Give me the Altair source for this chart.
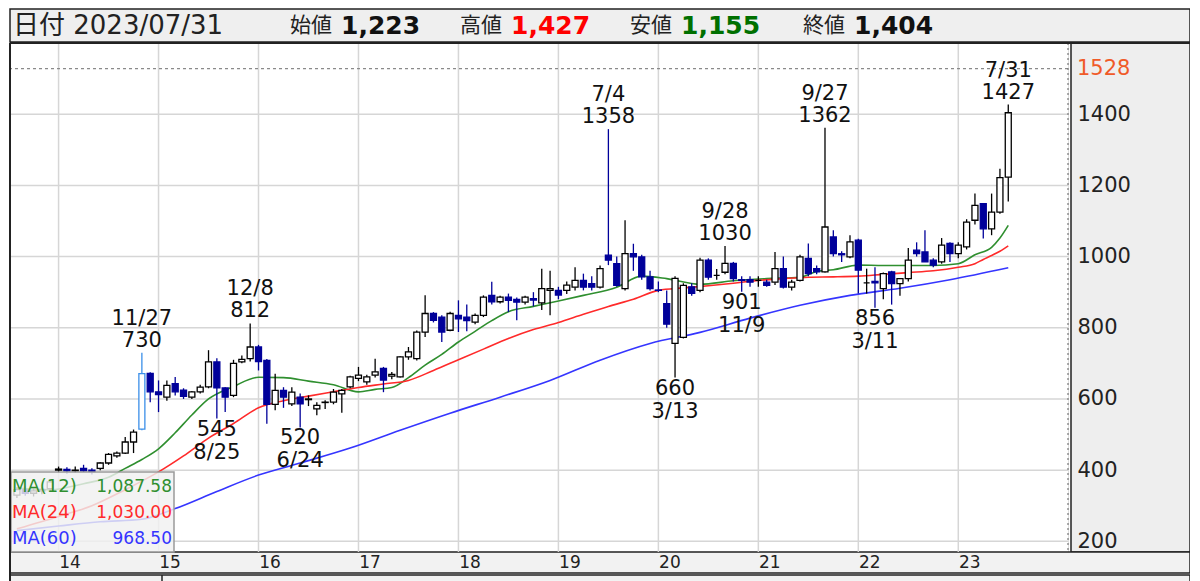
import altair as alt
import pandas as pd

FONT = "DejaVu Sans, Noto Sans CJK JP"

# ---------------- data ----------------
# month index: 0 = Jan 2014 (first candle Aug 2013, last Jul 2023)
months = list(range(-5, 115))
opens = [330, 345, 335, 342, 348,
         400, 402, 398, 405, 400, 405, 420, 440, 448, 479, 515, 672,
         620, 605, 643, 625, 605, 620, 634, 704, 631, 610, 704, 713,
         746, 708, 585, 624, 586, 605, 598, 572, 590, 591, 614, 634,
         658, 648, 667, 686, 664, 662, 718, 713, 788, 840, 830, 793,
         835, 830, 816, 835, 891, 873, 886, 880, 872, 882, 870, 905,
         905, 905, 914, 933, 924, 914, 1004, 980, 910, 1008, 999, 943,
         906, 868, 756, 773, 915, 905, 990, 947, 956, 981, 935, 935,
         933, 928, 928, 966, 914, 933, 995, 966, 957, 1055, 1008, 999,
         1046, 926, 930, 910, 957, 924, 938, 1018, 1013, 990, 985, 1037,
         1008, 1027, 1102, 1149, 1078, 1125, 1223]
highs = [352, 355, 348, 352, 375,
         410, 408, 410, 415, 405, 422, 448, 452, 493, 514, 730, 675,
         652, 652, 662, 630, 622, 640, 737, 714, 633, 710, 722, 812,
         752, 712, 671, 633, 633, 615, 610, 591, 596, 628, 628, 665,
         690, 668, 713, 690, 676, 720, 746, 792, 891, 844, 835, 845,
         877, 865, 840, 891, 929, 890, 896, 885, 890, 900, 966, 960,
         915, 930, 970, 952, 945, 975, 1358, 1000, 1102, 1036, 1005, 960,
         930, 905, 945, 925, 925, 997, 995, 965, 1030, 985, 945, 945,
         945, 935, 1013, 1000, 935, 1005, 1037, 975, 1362, 1074, 1015, 1060,
         1050, 966, 970, 955, 960, 940, 1024, 1040, 1074, 995, 1052, 1040,
         1040, 1105, 1177, 1150, 1177, 1247, 1427]
lows = [322, 328, 326, 332, 340,
        392, 390, 392, 395, 388, 400, 415, 435, 445, 448, 512, 591,
        563, 595, 610, 600, 600, 615, 630, 545, 563, 605, 700, 705,
        680, 530, 568, 575, 580, 520, 580, 554, 572, 585, 561, 630,
        650, 640, 660, 619, 655, 660, 710, 708, 774, 815, 760, 790,
        788, 790, 810, 830, 865, 868, 844, 821, 865, 860, 850, 835,
        880, 895, 905, 905, 905, 910, 976, 915, 905, 960, 935, 905,
        900, 800, 660, 770, 890, 900, 935, 935, 950, 930, 901, 915,
        915, 915, 920, 910, 905, 930, 945, 950, 955, 1000, 985, 995,
        896, 896, 856, 880, 865, 890, 930, 1000, 985, 970, 980, 985,
        995, 1020, 1090, 1051, 1060, 1120, 1155]
closes = [345, 335, 342, 346, 367,
          403, 398, 400, 398, 395, 420, 444, 448, 479, 507, 671, 620,
          612, 638, 620, 607, 620, 633, 704, 631, 605, 700, 711, 746,
          705, 585, 624, 605, 619, 586, 600, 582, 591, 619, 624, 662,
          667, 662, 676, 653, 669, 718, 732, 788, 840, 821, 788, 840,
          825, 820, 835, 886, 873, 886, 877, 872, 886, 878, 910, 910,
          892, 920, 933, 914, 914, 966, 990, 919, 1008, 999, 943, 910,
          905, 810, 939, 919, 897, 990, 942, 947, 981, 938, 933, 928,
          933, 919, 966, 914, 928, 999, 952, 957, 1083, 1008, 1005, 1041,
          962, 926, 926, 952, 924, 938, 990, 1008, 985, 976, 1032, 1008,
          1032, 1097, 1144, 1078, 1125, 1222, 1404]
selected_month = 10  # Nov 2014 candle drawn with the cursor highlight

ma12_m = [-5, -1, 3, 6, 8, 10, 12, 14, 16, 18, 21, 24, 27, 30, 33, 36, 38, 40,
          42, 44, 46, 48, 50, 52, 54, 57, 60, 63, 67, 70, 73, 77, 81, 85, 89,
          91, 93, 96, 99, 105, 108, 110, 112, 113, 114]
ma12_v = [350, 345, 362, 380, 405, 430, 460, 505, 555, 600, 635, 661, 660, 650,
          640, 620, 627, 632, 660, 695, 725, 760, 790, 820, 845, 860, 875, 891,
          914, 945, 938, 922, 932, 938, 942, 958, 963, 976, 975, 975, 980, 1005,
          1026, 1052, 1087.58]
ma24_m = [-5, 0, 4, 8, 12, 15, 18, 21, 24, 27, 30, 33, 36, 39, 42, 45, 48, 51,
          54, 57, 60, 63, 66, 69, 72, 75, 78, 81, 84, 87, 90, 93, 96, 99, 102,
          105, 108, 110, 111, 112, 113, 114]
ma24_v = [235, 270, 300, 345, 395, 440, 490, 531, 575, 595, 608, 620, 632, 642,
          652, 680, 710, 740, 770, 795, 815, 838, 860, 880, 905, 912, 918, 925,
          933, 938, 942, 943, 945, 950, 955, 960, 970, 980, 992, 1003, 1015, 1030]
ma60_m = [-5, 0, 5, 10, 14, 19, 24, 29, 35, 41, 47, 53, 59, 65, 71, 77, 83, 89,
          95, 101, 107, 114]
ma60_v = [230, 243, 255, 262, 292, 340, 386, 420, 462, 512, 560, 605, 652, 709,
          756, 787, 827, 863, 891, 911, 935, 968.5]

ma_names = ["MA(12)", "MA(24)", "MA(60)"]
ma_last = ["1,087.58", "1,030.00", "968.50"]
ma_colors = ["#2f8f2f", "#ff2a2a", "#3535ff"]

ann_month = [10, 23, 19, 29, 66, 74, 80, 82, 92, 98, 114]
ann_date = ["11/27", "12/8", "8/25", "6/24", "7/4", "3/13", "9/28", "11/9",
            "9/27", "3/11", "7/31"]
ann_price = [730, 812, 545, 520, 1358, 660, 1030, 901, 1362, 856, 1427]
ann_side = ["high", "high", "low", "low", "high", "low", "high", "low", "high",
            "low", "high"]

year_ticks = [0, 12, 24, 36, 48, 60, 72, 84, 96, 108]
year_labels = ["14", "15", "16", "17", "18", "19", "20", "21", "22", "23"]
y_ticks = [200, 400, 600, 800, 1000, 1200, 1400]
max_line = 1528

header_date = "日付 2023/07/31"
header_labels = ["始値", "高値", "安値", "終値"]
header_values = ["1,223", "1,427", "1,155", "1,404"]
header_colors = ["#111111", "#ff0000", "#007000", "#111111"]

# ---------------- tables ----------------
df = pd.DataFrame({"m": months, "open": opens, "high": highs, "low": lows,
                   "close": closes})
df["kind"] = ["sel" if m == selected_month else ("up" if c >= o else "down")
              for m, o, c in zip(df.m, df.open, df.close)]

ma_df = pd.concat([
    pd.DataFrame({"m": ma12_m, "v": ma12_v, "ma": "MA(12)"}),
    pd.DataFrame({"m": ma24_m, "v": ma24_v, "ma": "MA(24)"}),
    pd.DataFrame({"m": ma60_m, "v": ma60_v, "ma": "MA(60)"}),
])
ann = pd.DataFrame({"m": ann_month, "p": ann_price, "side": ann_side,
                    "d": ann_date, "ps": [str(p) for p in ann_price]})
ann_h = ann[ann.side == "high"]
ann_l = ann[ann.side == "low"]

W, H = 1058, 509
xs = alt.Scale(domain=[-5.23, 120.57], nice=False, zero=False)
ys = alt.Scale(domain=[170, 1600], nice=False, zero=False)
label_expr = "[" + ",".join(f"'{s}'" for s in year_labels) + "][round(datum.value / 12)]"
xaxis = alt.Axis(values=year_ticks, labelExpr=label_expr, grid=False, ticks=False,
                 domain=False, labelFont=FONT, labelFontSize=17, labelColor="#222",
                 labelOffset=11, labelPadding=2, labelFlush=False, title=None,
                 zindex=1, labelOverlap=False)
yaxis = alt.Axis(orient="right", values=y_ticks, format="d", grid=False, ticks=False,
                 domain=False, labelFont=FONT, labelFontSize=21, labelColor="#222",
                 labelPadding=9, labelFlush=False, title=None, zindex=1,
                 labelOverlap=False)


def X(f):
    return alt.X(f, scale=xs, axis=xaxis)


def Y(f):
    return alt.Y(f, scale=ys, axis=yaxis)


one = pd.DataFrame({"a": [0]})

# ---------------- decorative panels ----------------
header_bg = alt.Chart(one).mark_rect(fill="#efefef", stroke="#222", strokeWidth=1.5).encode(
    x=alt.value(0), x2=alt.value(1180), y=alt.value(-34), y2=alt.value(-1))
right_bg = alt.Chart(one).mark_rect(fill="#eeeeee", stroke="#222", strokeWidth=1.5).encode(
    x=alt.value(1061), x2=alt.value(1180), y=alt.value(0), y2=alt.value(H))
bottom_bg = alt.Chart(one).mark_rect(fill="#f2f2f2", stroke="#222", strokeWidth=1.5).encode(
    x=alt.value(0), x2=alt.value(1180), y=alt.value(H), y2=alt.value(H + 21))
bottom_bg2 = alt.Chart(one).mark_rect(fill="#f2f2f2", stroke="#222", strokeWidth=1.5).encode(
    x=alt.value(0), x2=alt.value(1180), y=alt.value(H + 23), y2=alt.value(H + 40))
bottom_div = alt.Chart(one).mark_rule(color="#222", strokeWidth=1.5).encode(
    x=alt.value(152), y=alt.value(H + 23), y2=alt.value(H + 40))
left_border = alt.Chart(one).mark_rule(color="#222", strokeWidth=2).encode(
    x=alt.value(0), y=alt.value(0), y2=alt.value(H + 40))
top_border = alt.Chart(one).mark_rule(color="#222", strokeWidth=2).encode(
    x=alt.value(0), x2=alt.value(1180), y=alt.value(0))
right_dotted = alt.Chart(one).mark_rule(color="#777", strokeWidth=1.2, strokeDash=[2, 3]).encode(
    x=alt.value(W), y=alt.value(0), y2=alt.value(H))

# ---------------- grid ----------------
vgrid = alt.Chart(pd.DataFrame({"m": year_ticks})).mark_rule(
    color="#d6d6d6", strokeWidth=1.5).encode(x=X("m:Q"))
hgrid = alt.Chart(pd.DataFrame({"v": y_ticks})).mark_rule(
    color="#d6d6d6", strokeWidth=1.5).encode(y=Y("v:Q"))
maxdf = pd.DataFrame({"v": [max_line], "t": [str(max_line)]})
max_rule = alt.Chart(maxdf).mark_rule(color="#8a8a8a", strokeWidth=1.2,
                                      strokeDash=[3, 3]).encode(y=Y("v:Q"))
max_text = alt.Chart(maxdf).mark_text(align="left", baseline="middle", font=FONT,
                                      fontSize=21, color="#f05a28").encode(
    y=Y("v:Q"), x=alt.value(W + 9), text="t:N")

# ---------------- MA lines ----------------
ma_lines = alt.Chart(ma_df).mark_line(strokeWidth=1.6, interpolate="monotone").encode(
    x=X("m:Q"), y=Y("v:Q"),
    color=alt.Color("ma:N", scale=alt.Scale(domain=ma_names, range=ma_colors),
                    legend=None),
    detail="ma:N")

# ---------------- candles ----------------
kinds = ["up", "down", "sel"]
stroke_scale = alt.Scale(domain=kinds, range=["#000000", "#00009a", "#3b8fe8"])
fill_scale = alt.Scale(domain=kinds, range=["#ffffff", "#00009a", "#ffffff"])
wicks = alt.Chart(df).mark_rule(strokeWidth=1.3).encode(
    x=X("m:Q"), y=Y("low:Q"), y2="high:Q",
    stroke=alt.Stroke("kind:N", scale=stroke_scale, legend=None))
bodies = alt.Chart(df).mark_bar(size=6, strokeWidth=1.3).encode(
    x=X("m:Q"), y=Y("open:Q"), y2="close:Q",
    fill=alt.Fill("kind:N", scale=fill_scale, legend=None),
    stroke=alt.Stroke("kind:N", scale=stroke_scale, legend=None))

# ---------------- annotations ----------------
def ann_text(data, field, base, dy):
    return alt.Chart(data).mark_text(baseline=base, dy=dy, font=FONT, fontSize=21,
                                     color="#111").encode(
        x=X("m:Q"), y=Y("p:Q"), text=f"{field}:N")


ann_layers = [
    ann_text(ann_h, "ps", "bottom", -2),
    ann_text(ann_h, "d", "bottom", -24),
    ann_text(ann_l, "ps", "top", 0),
    ann_text(ann_l, "d", "top", 23),
]

# ---------------- MA legend box ----------------
leg_box = alt.Chart(one).mark_rect(fill="#f0f0f0", fillOpacity=0.82, stroke="#9a9a9a",
                                   strokeWidth=1.5).encode(
    x=alt.value(1), x2=alt.value(164), y=alt.value(429), y2=alt.value(H))
leg_layers = []
for i, (nm, val, col) in enumerate(zip(ma_names, ma_last, ma_colors)):
    rowy = 444 + 26 * i
    d = pd.DataFrame({"n": [nm], "v": [val]})
    leg_layers.append(alt.Chart(d).mark_text(align="left", baseline="middle", font=FONT,
                                             fontSize=18, color=col).encode(
        x=alt.value(2), y=alt.value(rowy), text="n:N"))
    leg_layers.append(alt.Chart(d).mark_text(align="right", baseline="middle", font=FONT,
                                             fontSize=17, color=col).encode(
        x=alt.value(162), y=alt.value(rowy), text="v:N"))

# ---------------- header ----------------
hy = -17
head_layers = [alt.Chart(pd.DataFrame({"t": [header_date]})).mark_text(
    align="left", baseline="middle", font=FONT, fontSize=26, color="#222").encode(
    x=alt.value(3), y=alt.value(hy), text="t:N")]
for i, (lb, vl, col) in enumerate(zip(header_labels, header_values, header_colors)):
    lx = [280, 450, 620, 793][i]
    d = pd.DataFrame({"l": [lb], "v": [vl]})
    head_layers.append(alt.Chart(d).mark_text(
        align="left", baseline="middle", font=FONT, fontSize=21, color="#222").encode(
        x=alt.value(lx), y=alt.value(hy), text="l:N"))
    head_layers.append(alt.Chart(d).mark_text(
        align="left", baseline="middle", font=FONT, fontSize=25, fontWeight="bold",
        color=col).encode(x=alt.value(lx + 51), y=alt.value(hy), text="v:N"))

chart = alt.layer(
    header_bg, right_bg, bottom_bg, bottom_bg2, bottom_div,
    vgrid, hgrid, max_rule, right_dotted,
    ma_lines, wicks, bodies, *ann_layers,
    leg_box, *leg_layers,
    left_border, top_border, max_text, *head_layers,
).properties(
    width=W, height=H, autosize="none",
    padding={"left": 2, "top": 35, "right": 122, "bottom": 29},
).configure_view(stroke=None).configure(background="white")

chart.save("out.html", embed_options={"renderer": "svg", "actions": False})
